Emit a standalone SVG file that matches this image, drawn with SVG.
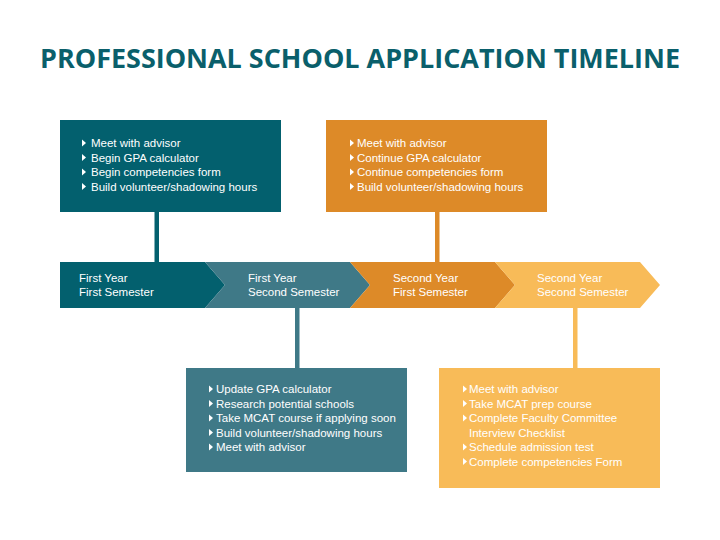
<svg xmlns="http://www.w3.org/2000/svg" width="720" height="540" viewBox="0 0 720 540">
<style>
.t{font-family:"Liberation Sans",Arial,sans-serif;font-size:11.5px;fill:#ffffff}
.title{font-family:"Open Sans","Liberation Sans",Arial,sans-serif;font-size:27px;font-weight:bold;fill:#0a5f6b}
.b{fill:#ffffff}
</style>
<defs>
<path id="bul" d="M0,-7.5 L4,-4 L0,-0.5 Z"/>
</defs>
<rect width="720" height="540" fill="#ffffff"/>
<text class="title" x="360" y="68" text-anchor="middle" textLength="640" lengthAdjust="spacingAndGlyphs">PROFESSIONAL SCHOOL APPLICATION TIMELINE</text>
<g id="connectors">
<rect x="154.5" y="212" width="4.5" height="50" fill="#03606e"/>
<rect x="435" y="212" width="4.5" height="50" fill="#dd8a28"/>
<rect x="295" y="308" width="4.5" height="60" fill="#3f7987"/>
<rect x="573" y="308" width="4.5" height="60" fill="#f8bb58"/>
</g>
<g id="timeline">
<g id="seg1"><polygon points="60,262 205,262 225,285 205,308 60,308" fill="#03606e"/>
<text class="t" x="79" y="282">First Year</text><text class="t" x="79" y="296">First Semester</text></g>
<g id="seg2"><polygon points="205,262 350,262 370,285 350,308 205,308 225,285" fill="#3f7987"/>
<text class="t" x="248" y="282">First Year</text><text class="t" x="248" y="296">Second Semester</text></g>
<g id="seg3"><polygon points="350,262 495,262 515,285 495,308 350,308 370,285" fill="#dd8a28"/>
<text class="t" x="393" y="282">Second Year</text><text class="t" x="393" y="296">First Semester</text></g>
<g id="seg4"><polygon points="495,262 640,262 660,285 640,308 495,308 515,285" fill="#f8bb58"/>
<text class="t" x="537" y="282">Second Year</text><text class="t" x="537" y="296">Second Semester</text></g>
</g>
<g id="box1">
<rect x="60" y="120" width="221" height="92" fill="#03606e"/>
<use href="#bul" x="82" y="147" class="b"/><text class="t" x="91" y="147">Meet with advisor</text>
<use href="#bul" x="82" y="161.5" class="b"/><text class="t" x="91" y="161.5">Begin GPA calculator</text>
<use href="#bul" x="82" y="176" class="b"/><text class="t" x="91" y="176">Begin competencies form</text>
<use href="#bul" x="82" y="190.5" class="b"/><text class="t" x="91" y="190.5">Build volunteer/shadowing hours</text>
</g>
<g id="box2">
<rect x="326" y="120" width="221" height="92" fill="#dd8a28"/>
<use href="#bul" x="350" y="147" class="b"/><text class="t" x="357" y="147">Meet with advisor</text>
<use href="#bul" x="350" y="161.5" class="b"/><text class="t" x="357" y="161.5">Continue GPA calculator</text>
<use href="#bul" x="350" y="176" class="b"/><text class="t" x="357" y="176">Continue competencies form</text>
<use href="#bul" x="350" y="190.5" class="b"/><text class="t" x="357" y="190.5">Build volunteer/shadowing hours</text>
</g>
<g id="box3">
<rect x="186" y="368" width="221" height="104" fill="#3f7987"/>
<use href="#bul" x="209" y="393" class="b"/><text class="t" x="216" y="393">Update GPA calculator</text>
<use href="#bul" x="209" y="407.5" class="b"/><text class="t" x="216" y="407.5">Research potential schools</text>
<use href="#bul" x="209" y="422" class="b"/><text class="t" x="216" y="422">Take MCAT course if applying soon</text>
<use href="#bul" x="209" y="436.5" class="b"/><text class="t" x="216" y="436.5">Build volunteer/shadowing hours</text>
<use href="#bul" x="209" y="451" class="b"/><text class="t" x="216" y="451">Meet with advisor</text>
</g>
<g id="box4">
<rect x="439" y="368" width="221" height="120" fill="#f8bb58"/>
<use href="#bul" x="463" y="393" class="b"/><text class="t" x="469" y="393">Meet with advisor</text>
<use href="#bul" x="463" y="407.5" class="b"/><text class="t" x="469" y="407.5">Take MCAT prep course</text>
<use href="#bul" x="463" y="422" class="b"/><text class="t" x="469" y="422">Complete Faculty Committee</text>
<text class="t" x="469" y="436.5">Interview Checklist</text>
<use href="#bul" x="463" y="451" class="b"/><text class="t" x="469" y="451">Schedule admission test</text>
<use href="#bul" x="463" y="465.5" class="b"/><text class="t" x="469" y="465.5">Complete competencies Form</text>
</g>
</svg>
